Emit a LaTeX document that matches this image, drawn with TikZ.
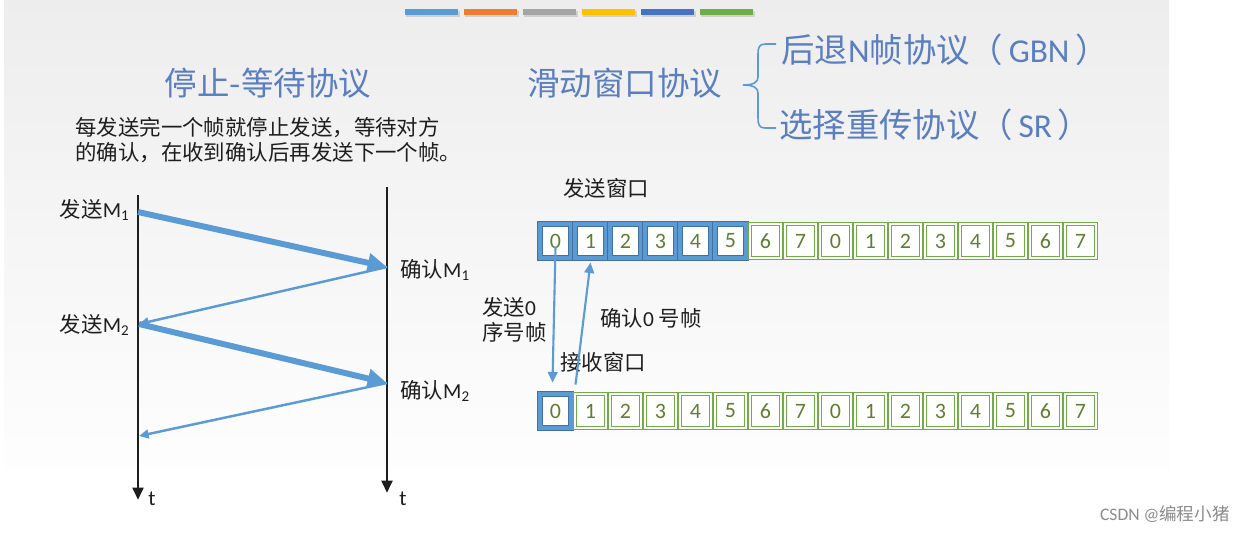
\documentclass[tikz,border=0pt]{standalone}
\usepackage{fontspec}
\setmainfont{Carlito}
\newfontfamily\cjk{Noto Sans CJK SC}
\usepackage{xcolor}
\usepackage{tikz}
\usetikzlibrary{arrows.meta,positioning,calc}
\definecolor{inkK}{HTML}{1E1E1E}
\definecolor{cBlue}{HTML}{5B9BD5}
\definecolor{dBlue}{HTML}{41719C}
\definecolor{cGreen}{HTML}{70AD47}
\definecolor{cOlive}{HTML}{5E7E30}
\definecolor{cTitle}{HTML}{5A7EC0}
\definecolor{cOrange}{HTML}{ED7D31}
\definecolor{cGray}{HTML}{A5A5A5}
\definecolor{cGold}{HTML}{FFC000}
\definecolor{cNavy}{HTML}{4472C4}

\begin{document}
\begin{tikzpicture}[x=0.02cm, y=-0.02cm,
    title/.style={font=\cjk\fontsize{18.5}{22}\selectfont, text=cTitle, inner sep=0pt},
    txt/.style={font=\cjk\fontsize{12.2}{14.3}\selectfont, text=inkK, inner sep=0pt},
    timeline/.style={line width=1.7pt, inkK, -{Triangle[length=7pt,width=6pt]}},
    frame/.style={line width=3.4pt, cBlue, -{Triangle[length=11pt,width=10.5pt]}},
    ack/.style={line width=1.4pt, cBlue, -{Triangle[length=5.5pt,width=5pt]}},
    ptr/.style={line width=1.2pt, cBlue, -{Triangle[length=6pt,width=5.5pt]}},
    cell/.style={draw=cGreen, fill=white, double=white, double distance=1.3pt,
                 line width=0.55pt, minimum width=0.62cm, minimum height=0.68cm,
                 inner sep=0pt, font=\fontsize{12.5}{14}\selectfont, text=cOlive},
    wcell/.style={cell, draw=dBlue, double=cBlue, double distance=1.8pt, line width=0.55pt}]

  % slide background
  \useasboundingbox (0,0) rectangle (1245,532);
  \fill[white] (0,0) rectangle (1245,532);
  \shade[top color=black!7, bottom color=black!0.5] (4,0) rectangle (1169,472);

  % colour bars
  \foreach \c [count=\k from 0] in {cBlue,cOrange,cGray,cGold,cNavy,cGreen} {
    \fill[black, opacity=0.12] ({406+59*\k},11) rectangle ({460+59*\k},17);
    \fill[\c] ({405+59*\k},9) rectangle ({458+59*\k},15);
  }

  % stop-and-wait
  \node[title] (tStop) at (268,83) {停止-等待协议};
  \node[txt, align=left, anchor=north west] (desc) at (75,117)
    {每发送完一个帧就停止发送，等待对方\\的确认，在收到确认后再发送下一个帧。};

  \coordinate (aTop) at (138,195);
  \coordinate (aBot) at (138,500);
  \coordinate (bTop) at (387,187);
  \coordinate (bBot) at (387,493);
  \coordinate (a1) at (138,212);
  \coordinate (b1) at (387,267);
  \coordinate (a2) at (139,324);
  \coordinate (b2) at (387,383);
  \coordinate (a3) at (139,436);

  \draw[timeline] (aTop) -- (aBot);
  \draw[timeline] (bTop) -- (bBot);
  \node[txt, anchor=west] (tA) at (148,499) {\rmfamily t};
  \node[txt, anchor=west] (tB) at (399,499) {\rmfamily t};

  \draw[frame] (a1) -- (b1);
  \draw[ack] (b1) -- (a2);
  \draw[frame] (a2) -- (b2);
  \draw[ack] (b2) -- (a3);

  \node[txt, anchor=east] (sM1) at (130,210) {发送{\rmfamily M\textsubscript{1}}};
  \node[txt, anchor=east] (sM2) at (130,325) {发送{\rmfamily M\textsubscript{2}}};
  \node[txt, anchor=west] (cM1) at (400,270) {确认{\rmfamily M\textsubscript{1}}};
  \node[txt, anchor=west] (cM2) at (400,391) {确认{\rmfamily M\textsubscript{2}}};

  % sliding window
  \node[title, anchor=west] (tSlide) at (527,83) {滑动窗口协议};
  \node[title, anchor=west, font=\cjk\fontsize{19}{22}\selectfont] (tGBN) at (781,50)
    {后退{\rmfamily N}帧协议（\,{\rmfamily GBN}\,）};
  \node[title, anchor=west, font=\cjk\fontsize{19}{22}\selectfont] (tSR) at (779,125)
    {选择重传协议（\,{\rmfamily SR}\,）};
  \draw[cBlue, line width=0.9pt]
    (776,44) -- (765,44) .. controls (759,44) and (758,48) .. (758,54) -- (758,77)
    .. controls (758,82) and (754,85) .. (743,85)
    .. controls (754,85) and (758,88) .. (758,93) -- (758,118)
    .. controls (758,124) and (759,128) .. (765,128) -- (776,128);

  \node[txt, anchor=west] (sWin) at (563,188) {发送窗口};
  \foreach \i in {0,...,15} {
    \pgfmathtruncatemacro\d{mod(\i,8)}
    \ifnum\i<6 \def\cs{wcell}\else\def\cs{cell}\fi
    \node[\cs] (s\i) at ({555.5+35*\i},241) {\d};
    \ifnum\i<1 \def\cs{wcell}\else\def\cs{cell}\fi
    \node[\cs] (r\i) at ({555.5+35*\i},411) {\d};
  }
  \node[txt, anchor=west] (rWin) at (560,362) {接收窗口};

  \draw[ptr] ($(s0.center)+(0,6)$) -- ($(r0.north)+(-3,-11)$);
  \draw[ptr] ($(r0.north east)+(4,-9)$) -- ($(s1.south)+(0,4)$);
  \node[txt, align=left, anchor=west] (sendLbl) at (482,320) {发送{\rmfamily 0}\\序号帧};
  \node[txt, anchor=west] (ackLbl) at (600,318) {确认{\rmfamily 0} 号帧};

  % watermark
  \node[font=\fontsize{10}{12}\selectfont, text=black!45, anchor=east, inner sep=0pt]
    (wm) at (1230,514) {CSDN @{\cjk 编程小猪}};
\end{tikzpicture}
\end{document}
